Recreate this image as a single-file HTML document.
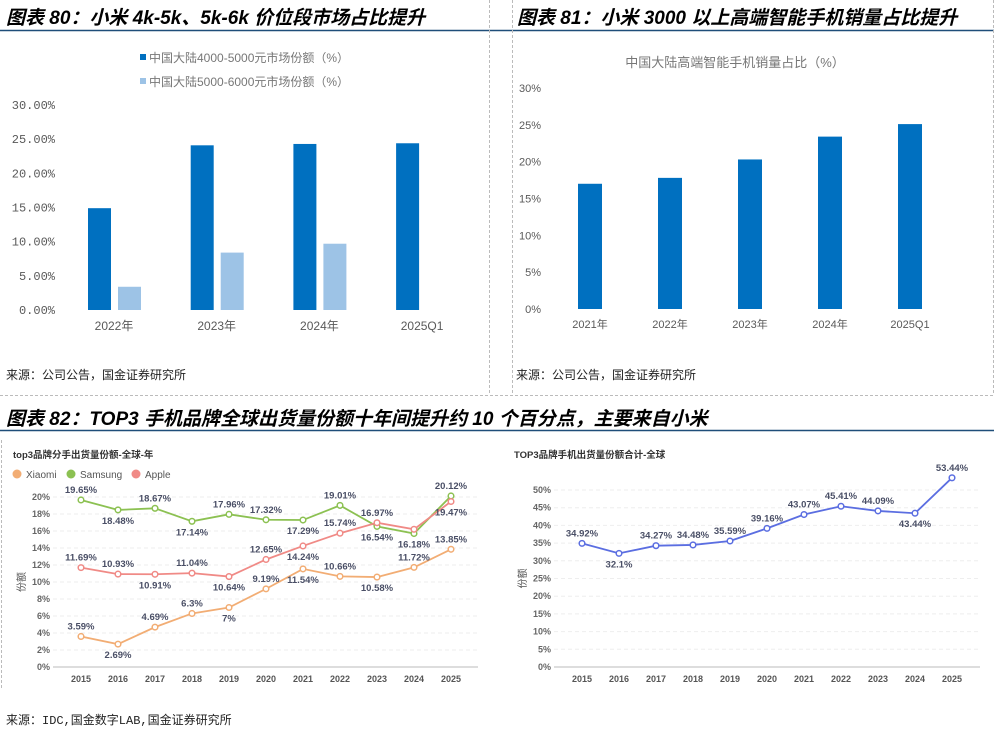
<!DOCTYPE html>
<html><head><meta charset="utf-8"><style>
body{margin:0;width:994px;height:737px;background:#fff;position:relative;overflow:hidden;font-family:"Liberation Sans","Noto Sans CJK SC",sans-serif}
.t{position:absolute;font-weight:bold;font-style:italic;font-size:19px;color:#000;white-space:nowrap}
.src{position:absolute;font-size:12px;color:#222;font-family:"Liberation Mono","Noto Sans CJK SC",monospace}
svg{position:absolute;left:0;top:0}
</style></head><body>
<div class="t" style="left:6px;top:3px">图表 80：小米 4k-5k、5k-6k 价位段市场占比提升</div>
<div class="t" style="left:517px;top:3px">图表 81：小米 3000 以上高端智能手机销量占比提升</div>
<div class="t" style="left:6px;top:404px">图表 82：TOP3 手机品牌全球出货量份额十年间提升约 10 个百分点，主要来自小米</div>
<div class="src" style="left:6px;top:366px">来源：公司公告，国金证券研究所</div>
<div class="src" style="left:516px;top:366px">来源：公司公告，国金证券研究所</div>
<div class="src" style="left:6px;top:711px">来源：IDC,国金数字LAB,国金证券研究所</div>
<svg id="s" width="994" height="737"></svg>
<script>
// Chart 80
const cat80=['2022年','2023年','2024年','2025Q1'];
const dark80=[14.9,24.1,24.3,24.4];
const light80=[3.4,8.4,9.7,null];
const ticks80=[0,5,10,15,20,25,30];
// Chart 81
const cat81=['2021年','2022年','2023年','2024年','2025Q1'];
const val81=[17.0,17.8,20.3,23.4,25.1];
const ticks81=[0,5,10,15,20,25,30];
// Chart 82 left
const years=['2015','2016','2017','2018','2019','2020','2021','2022','2023','2024','2025'];
const xiaomi=[3.59,2.69,4.69,6.3,7,9.19,11.54,10.66,10.58,11.72,13.85];
const xiaomiLab=['3.59%','2.69%','4.69%','6.3%','7%','9.19%','11.54%','10.66%','10.58%','11.72%','13.85%'];
const xiaomiPos=['a','b','a','a','b','a','b','a','b','a','a'];
const samsung=[19.65,18.48,18.67,17.14,17.96,17.32,17.29,19.01,16.54,15.7,20.12];
const samsungLab=['19.65%','18.48%','18.67%','17.14%','17.96%','17.32%','17.29%','19.01%','16.54%','16.18%','20.12%'];
const samsungPos=['a','b','a','b','a','a','b','a','b','b','a'];
const apple=[11.69,10.93,10.91,11.04,10.64,12.65,14.24,15.74,16.97,16.2,19.47];
const appleLab=['11.69%','10.93%','10.91%','11.04%','10.64%','12.65%','14.24%','15.74%','16.97%','','19.47%'];
const applePos=['a','a','b','a','b','a','b','a','a','a','b'];
const ticksL=[0,2,4,6,8,10,12,14,16,18,20];
// Chart 82 right
const total=[34.92,32.1,34.27,34.48,35.59,39.16,43.07,45.41,44.09,43.44,53.44];
const totalLab=['34.92%','32.1%','34.27%','34.48%','35.59%','39.16%','43.07%','45.41%','44.09%','43.44%','53.44%'];
const totalPos=['a','b','a','a','a','a','a','a','a','b','a'];
const ticksR=[0,5,10,15,20,25,30,35,40,45,50];

const S=document.getElementById('s');const NS='http://www.w3.org/2000/svg';
function mk(tag,a,txt){const e=document.createElementNS(NS,tag);for(const k in a)e.setAttribute(k,a[k]);if(txt!=null)e.textContent=txt;S.appendChild(e);return e;}
// frame lines
let e;
e=mk('line',{x1:0,y1:30.5,x2:994,y2:30.5,stroke:'#1f4e79','stroke-width':1.5});


e=mk('line',{x1:0,y1:430.5,x2:994,y2:430.5,stroke:'#1f4e79','stroke-width':1.5});


[[489.5,0,395],[512.5,0,395],[993.5,0,395],[1.5,440,690]].forEach(v=>{e=mk('line',{x1:v[0],y1:v[1],x2:v[0],y2:v[2],stroke:'#bbb','stroke-dasharray':'3,2'});

});
e=mk('line',{x1:0,y1:395.5,x2:994,y2:395.5,stroke:'#bbb','stroke-dasharray':'3,2'});



// Chart 80
const y80=v=>310-v/30*205;
ticks80.forEach(t=>{e=mk('text',{x:55,y:y80(t)+4,'text-anchor':'end','font-size':12,fill:'#595959','font-family':'Liberation Mono,monospace'},t.toFixed(2)+'%');

});
e=mk('rect',{x:140,y:54,width:6,height:6,fill:'#0070c0'});


e=mk('text',{x:149,y:62,'font-size':12,fill:'#777'},'中国大陆4000-5000元市场份额（%）');


e=mk('rect',{x:140,y:78,width:6,height:6,fill:'#9dc3e6'});


e=mk('text',{x:149,y:86,'font-size':12,fill:'#777'},'中国大陆5000-6000元市场份额（%）');


cat80.forEach((c,i)=>{const gx=88+i*102.7;
 e=mk('rect',{x:gx,y:y80(dark80[i]),width:23,height:310-y80(dark80[i]),fill:'#0070c0'});
 
 
 if(light80[i]!=null){e=mk('rect',{x:gx+30,y:y80(light80[i]),width:23,height:310-y80(light80[i]),fill:'#9dc3e6'});
 
 }
 e=mk('text',{x:gx+26,y:330,'text-anchor':'middle','font-size':12,fill:'#595959'},c);
 
 
});

// Chart 81
const y81=v=>309-v/30*221;
e=mk('text',{x:735,y:67,'text-anchor':'middle','font-size':13,fill:'#777'},'中国大陆高端智能手机销量占比（%）');


ticks81.forEach(t=>{e=mk('text',{x:541,y:y81(t)+4,'text-anchor':'end','font-size':11,fill:'#595959'},t+'%');

});
cat81.forEach((c,i)=>{const cx=590+i*80;
 e=mk('rect',{x:cx-12,y:y81(val81[i]),width:24,height:309-y81(val81[i]),fill:'#0070c0'});
 
 
 e=mk('text',{x:cx,y:328,'text-anchor':'middle','font-size':11,fill:'#595959'},c);
 
 
});

// line chart helper
function lineChart(x0,step,y0,scale,ticks,title,series,axisL,axisR,name){
 const X=i=>x0+i*step, Y=v=>y0-v*scale;
 ticks.forEach(t=>{e=mk('line',{x1:axisL,y1:Y(t),x2:axisR,y2:Y(t),stroke:t?'#eee':'#bbb','stroke-dasharray':t?'4,3':''});
 
 
 e=mk('text',{x:axisL-3,y:Y(t)+3,'text-anchor':'end','font-size':9,fill:'#666','font-weight':'bold'},t+'%');
 
 });
 years.forEach((yr,i)=>{e=mk('text',{x:X(i),y:y0+15,'text-anchor':'middle','font-size':9,fill:'#555','font-weight':'bold'},yr);
 
 });
 e=mk('text',{x:axisL-28,y:(Y(ticks[ticks.length-1])+y0)/2,'font-size':10,fill:'#555',transform:`rotate(-90 ${axisL-28} ${(Y(ticks[ticks.length-1])+y0)/2})`,'text-anchor':'middle'},'份额');
 
 
 e=mk('text',{x:axisL-40,y:458,'font-size':9.5,fill:'#333','font-weight':'bold'},title);
 
 
 series.forEach(s=>{
  e=mk('polyline',{points:s.v.map((v,i)=>X(i)+','+Y(v)).join(' '),fill:'none',stroke:s.c,'stroke-width':1.8});
  
  
 });
 series.forEach(s=>{
  s.v.forEach((v,i)=>{e=mk('circle',{cx:X(i),cy:Y(v),r:2.8,fill:'#fff',stroke:s.c,'stroke-width':1.5});
  
  
  if(s.l[i]){e=mk('text',{x:X(i),y:Y(v)+(s.p[i]=='a'?-7:14),'text-anchor':'middle','font-size':9.5,'font-weight':'bold',fill:'#4a4f66'},s.l[i]);
  
  }});
 });
}
lineChart(81,37,667,8.5,ticksL,'top3品牌分手出货量份额-全球-年',[
 {n:'samsung',v:samsung,l:samsungLab,p:samsungPos,c:'#8cc152'},
 {n:'apple',v:apple,l:appleLab,p:applePos,c:'#f08a86'},
 {n:'xiaomi',v:xiaomi,l:xiaomiLab,p:xiaomiPos,c:'#f2ad74'}],53,478,'chart-82-left');
[['Xiaomi','#f2ad74',17],['Samsung','#8cc152',71],['Apple','#f08a86',136]].forEach(l=>{
 e=mk('circle',{cx:l[2],cy:474,r:4.5,fill:l[1]});
 
 
 e=mk('text',{x:l[2]+9,y:478,'font-size':10,fill:'#555'},l[0]);
 
 
});
lineChart(582,37,667,3.54,ticksR,'TOP3品牌手机出货量份额合计-全球',[
 {n:'total',v:total,l:totalLab,p:totalPos,c:'#5b6ee1'}],554,980,'chart-82-right');
</script>
</body></html>
